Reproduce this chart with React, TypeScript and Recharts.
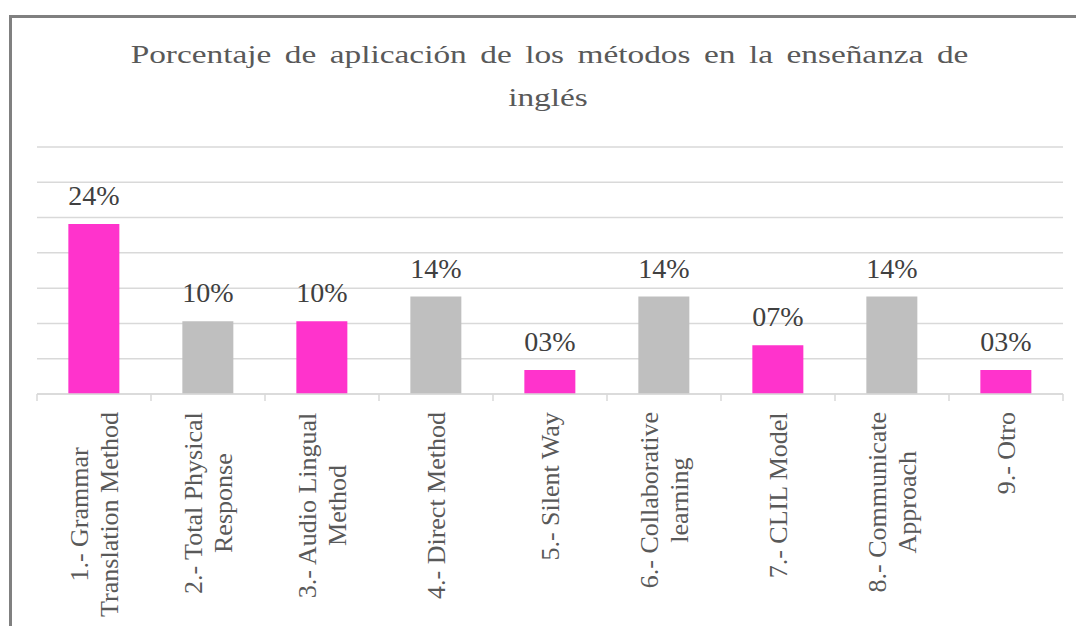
import React from 'react';
import { BarChart, Bar, XAxis, YAxis, CartesianGrid, Cell, LabelList } from 'recharts';

const categories = [
  '1.- Grammar\nTranslation Method',
  '2.- Total Physical\nResponse',
  '3.- Audio Lingual\nMethod',
  '4.- Direct Method',
  '5.- Silent Way',
  '6.- Collaborative\nlearning',
  '7.- CLIL Model',
  '8.- Communicate\nApproach',
  '9.- Otro',
];

const percentages = [24.1, 10.3, 10.3, 13.8, 3.4, 13.8, 6.9, 13.8, 3.4];

const yTicks = [0, 5, 10, 15, 20, 25, 30, 35];

const titleLines = ['Porcentaje de aplicación de los métodos en la enseñanza de', 'inglés'];

const PINK = '#FF33CC';
const GRAY = '#BFBFBF';
const GRID = '#D9D9D9';
const FONT = "'Liberation Serif', 'Times New Roman', serif";

const W = 1076;
const H = 626;
const LEFT = 37;
const RIGHT = 13;
const PLOT_W = W - LEFT - RIGHT;
const LABEL_SIZE = 26;

const data = categories.map((name, i) => ({ name, value: percentages[i] }));

let ctx: CanvasRenderingContext2D | null = null;
const measure = (s: string) => {
  if (!ctx) ctx = document.createElement('canvas').getContext('2d');
  if (!ctx) return s.length * LABEL_SIZE * 0.45;
  ctx.font = `${LABEL_SIZE}px 'Liberation Serif'`;
  return ctx.measureText(s).width;
};

const fmt = (v: number) => String(Math.round(v)).padStart(2, '0') + '%';

const serif = (size: number, color: string) => ({ fontFamily: FONT, fontSize: size, fill: color });

const AxisTick = (props: any) => {
  const { x, y, payload, index } = props;
  const band = PLOT_W / categories.length;
  const lines: string[] = String(payload.value).split('\n');
  const len = Math.max(...lines.map(measure));
  const top = y + 18;
  return (
    <g>
      <line x1={x - band / 2} y1={y} x2={x - band / 2} y2={y + 7} stroke={GRID} strokeWidth={1.5} />
      {index === categories.length - 1 && (
        <line x1={x + band / 2} y1={y} x2={x + band / 2} y2={y + 7} stroke={GRID} strokeWidth={1.5} />
      )}
      <g transform={`translate(${x},${top}) rotate(-90)`}>
        {lines.map((ln, i) => (
          <text
            key={i}
            x={-len / 2}
            y={(i - (lines.length - 1) / 2) * 30}
            textAnchor="middle"
            dominantBaseline="central"
            style={serif(LABEL_SIZE, '#595959')}
          >
            {ln}
          </text>
        ))}
      </g>
    </g>
  );
};

const BarLabel = (props: any) => {
  const { x, y, width, value } = props;
  return (
    <text x={x + width / 2} y={y - 19} textAnchor="middle" style={serif(28, '#404040')}>
      {fmt(value)}
    </text>
  );
};

export default function App() {
  return (
    <div style={{ position: 'absolute', left: 0, top: 0, width: W, height: H, background: '#fff', overflow: 'hidden' }}>
      <div
        style={{
          position: 'absolute',
          left: 8.5,
          top: 15,
          width: W,
          height: H,
          borderTop: '3px solid #808080',
          borderLeft: '3px solid #808080',
        }}
      />
      <svg width={W} height={130} style={{ position: 'absolute', left: 0, top: 0 }}>
        <g transform="translate(549.5,63) scale(1.283,1)">
          <text textAnchor="middle" style={{ ...serif(26, '#595959'), wordSpacing: 4 }}>
            {titleLines[0]}
          </text>
        </g>
        <g transform="translate(548,106) scale(1.283,1)">
          <text textAnchor="middle" style={serif(26, '#595959')}>
            {titleLines[1]}
          </text>
        </g>
      </svg>
      <div style={{ position: 'absolute', left: 0, top: 0 }}>
        <BarChart
          width={W}
          height={H}
          data={data}
          margin={{ top: 147, right: RIGHT, left: LEFT, bottom: 0 }}
          barCategoryGap="27.5%"
        >
          <CartesianGrid vertical={false} stroke={GRID} strokeWidth={1.5} />
          <YAxis hide domain={[0, 35]} ticks={yTicks} />
          <XAxis
            dataKey="name"
            height={232}
            interval={0}
            tickSize={0}
            tickMargin={0}
            tickLine={false}
            axisLine={{ stroke: GRID, strokeWidth: 1.5 }}
            tick={<AxisTick />}
          />
          <Bar dataKey="value" isAnimationActive={false}>
            {data.map((_, i) => (
              <Cell key={i} fill={i % 2 === 0 ? PINK : GRAY} />
            ))}
            <LabelList dataKey="value" content={<BarLabel />} />
          </Bar>
        </BarChart>
      </div>
    </div>
  );
}
